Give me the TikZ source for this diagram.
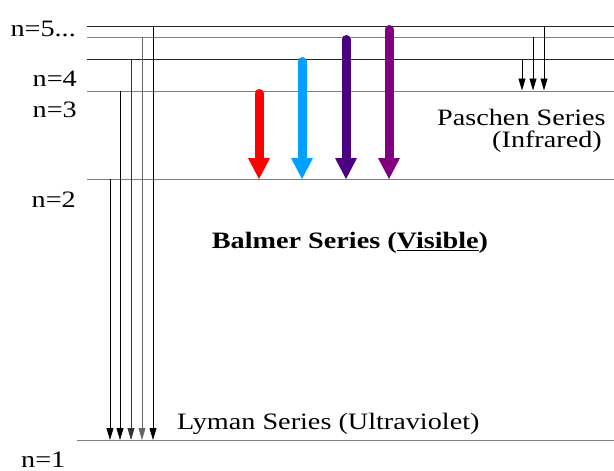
\documentclass[tikz,border=0pt]{standalone}
\usepackage{fontspec}
\setmainfont{Liberation Serif}[FakeStretch=1.2]
\usetikzlibrary{arrows.meta}
\begin{document}
\begin{tikzpicture}[x=1pt,y=-1pt,
  level/.style={line width=0.9pt},
  thin arrow/.style={line width=0.8pt,-{Triangle[width=7pt,length=12pt]}},
  balmer/.style={line width=9pt,line cap=round,
    -{Triangle[width=22pt,length=21pt,line width=0pt]}},
  txt/.style={inner sep=0pt,font=\fontsize{23.5}{28}\selectfont},
  bold txt/.style={inner sep=0pt,font=\fontsize{23.5}{28}\selectfont\bfseries}]
\useasboundingbox (0,0) rectangle (614,471);

% energy levels
\foreach \name/\y/\col/\x in {a/26/black!85/87, b/37/gray/87, c/59/black!85/87,
    d/91/gray/87, e/179/gray/87, f/440.5/gray/77} {
  \coordinate (\name W) at (\x,\y);
  \coordinate (\name E) at (614,\y);
  \draw[level,\col] (\name W) -- (\name E);
}

% level labels
\node[txt,anchor=base east] (n5) at (76,37) {n=5...};
\node[txt,anchor=base east] (n4) at (77,86) {n=4};
\node[txt,anchor=base east] (n3) at (77,117) {n=3};
\node[txt,anchor=base east] (n2) at (76,207) {n=2};
\node[txt,anchor=base west] (n1) at (21,467) {n=1};

% Lyman series: down to n=1
\foreach \x/\y/\col in {110/179/black, 120/91/black, 131/59/black!80,
    142/37/gray!80!black, 153/26/black} {
  \coordinate (lyT\x) at (\x,\y);
  \coordinate (lyB\x) at (\x,440);
  \draw[thin arrow,\col] (lyT\x) -- (lyB\x);
}
\node[txt,anchor=base west] (lyman) at (177,429) {Lyman Series (Ultraviolet)};

% Paschen series: down to n=3
\foreach \x/\y in {522/59, 533/37, 544/26} {
  \coordinate (paT\x) at (\x,\y);
  \coordinate (paB\x) at (\x,90.5);
  \draw[thin arrow] (paT\x) -- (paB\x);
}
\node[txt,anchor=base west] (paschen) at (437,125) {Paschen Series};
\node[txt,anchor=base east] (infra) at (602,147) {(Infrared)};

% Balmer series: down to n=2
\definecolor{hred}{RGB}{255,0,0}
\definecolor{hblue}{RGB}{0,160,255}
\definecolor{hindigo}{RGB}{75,0,130}
\definecolor{hviolet}{RGB}{128,0,128}
\foreach \x/\y/\col in {259/93.5/hred, 302/61.5/hblue, 346/39.5/hindigo,
    389/29.5/hviolet} {
  \coordinate (baT\x) at (\x,\y);
  \coordinate (baB\x) at (\x,179);
  \draw[balmer,\col] (baT\x) -- (baB\x);
}
\node[bold txt,anchor=base] (balmer) at (350,248)
  {Balmer Series (\underline{Visible})};
\end{tikzpicture}
\end{document}
